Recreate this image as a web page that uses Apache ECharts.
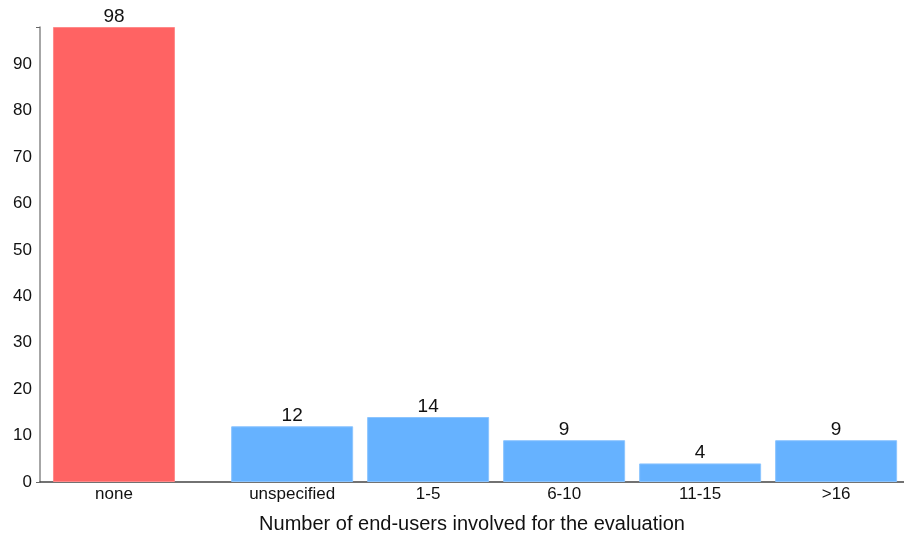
<!DOCTYPE html>
<html>
<head>
<meta charset="utf-8">
<script src="https://cdn.jsdelivr.net/npm/echarts@6/dist/echarts.min.js"></script>
<style>
  html, body { margin: 0; padding: 0; background: #fff; }
  #chart { width: 904px; height: 538px; }
</style>
</head>
<body>
<div id="chart"></div>
<script>
// categories and counts
const categories = ["none", "unspecified", "1-5", "6-10", "11-15", ">16"];
const counts = [98, 12, 14, 9, 4, 9];
// slot position of each bar along x (the "none" bar sits apart from the rest)
const slots = [0, 1.31, 2.31, 3.31, 4.31, 5.31];
const yTicks = [0, 10, 20, 30, 40, 50, 60, 70, 80, 90];

const red = "#ff6363";
const blue = "#66b2ff";

const chart = echarts.init(document.getElementById("chart"));

const option = {
  animation: false,
  textStyle: { fontFamily: "Liberation Sans, Arial, sans-serif" },
  grid: { left: 40, right: 0, top: 27, bottom: 56, outerBoundsMode: "none" },
  xAxis: {
    type: "value",
    min: -0.544,
    max: 5.809,
    splitLine: { show: false },
    axisLine: { show: true, onZero: false, lineStyle: { color: "#444", width: 1.5 } },
    axisTick: { show: false },
    axisLabel: {
      customValues: slots,
      formatter: function (v) {
        const i = slots.indexOf(v);
        return i >= 0 ? categories[i] : "";
      },
      color: "#111",
      fontSize: 17,
      margin: 4
    },
    name: "Number of end-users involved for the evaluation",
    nameLocation: "middle",
    nameGap: 32,
    nameTextStyle: { color: "#111", fontSize: 20 }
  },
  yAxis: {
    type: "value",
    min: 0,
    max: 98,
    interval: 10,
    splitLine: { show: false },
    axisLine: { show: true, onZero: false, lineStyle: { color: "#888", width: 1.5 } },
    axisTick: { show: true, customValues: [0, 98], length: 4, lineStyle: { color: "#666" } },
    axisLabel: {
      customValues: yTicks,
      color: "#111",
      fontSize: 17,
      margin: 8
    }
  },
  series: [
    {
      type: "bar",
      barWidth: 122,
      data: counts.map(function (c, i) {
        const col = i === 0 ? red : blue;
        return {
          value: [slots[i], c],
          itemStyle: { color: col, borderColor: i === 0 ? "#ff8a8a" : "#8cc5ff", borderWidth: 1 }
        };
      }),
      label: {
        show: true,
        position: "top",
        distance: 1,
        color: "#111",
        fontSize: 19,
        formatter: function (p) { return p.value[1]; }
      }
    }
  ]
};

chart.setOption(option);
</script>
</body>
</html>
